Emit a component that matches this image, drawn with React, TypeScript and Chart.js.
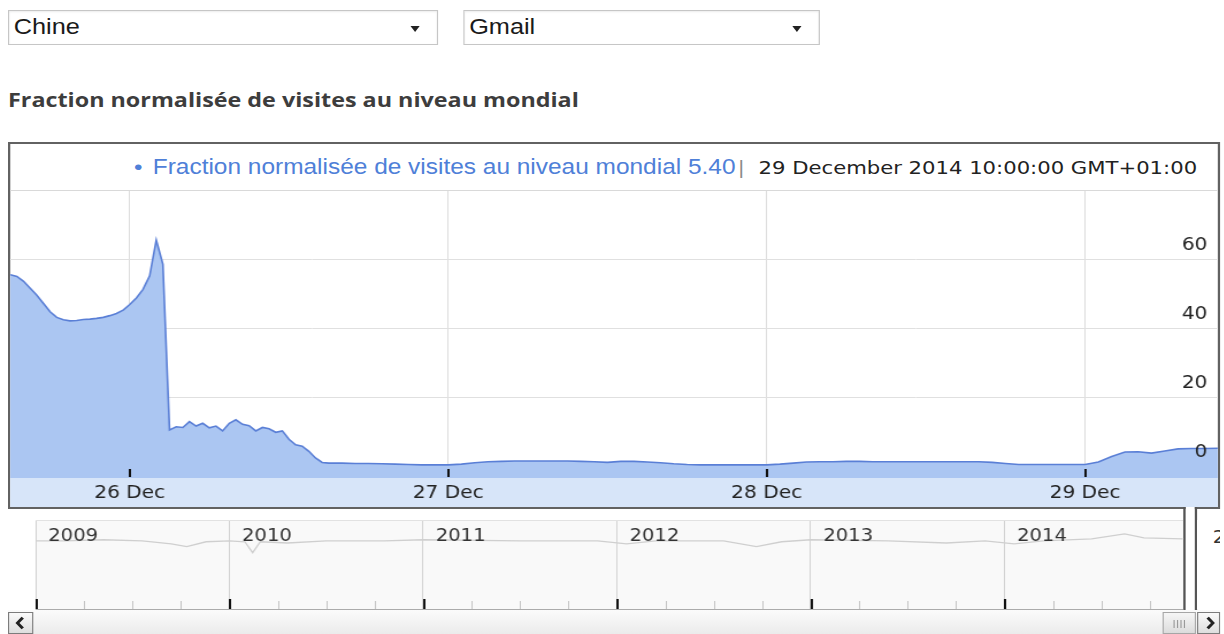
import React, { useEffect, useRef } from "react";
import { Chart, registerables } from "chart.js";

Chart.register(...registerables);

// ---------- data ----------
// hours relative to 26 Dec 2014 00:00 (GMT+01:00)
const hours = [
  -9, -8.5, -8, -7.5, -7, -6.5, -6, -5.5, -5, -4.5, -4, -3.5, -3, -2.5, -2, -1.5, -1, -0.5,
  0, 0.5, 1, 1.5, 2, 2.5, 3, 3.5, 4, 4.5, 5, 5.5, 6, 6.5, 7, 7.5, 8, 8.5, 9, 9.5, 10, 10.5,
  11, 11.5, 12, 12.5, 13, 13.5, 14, 14.5, 15,
  16, 17, 18, 19, 20, 21, 22, 23, 24, 25, 26, 27, 28, 29, 30, 31, 32, 33, 34, 35, 36, 37, 38,
  39, 40, 41, 42, 43, 44, 45, 46, 47, 48, 49, 50, 51, 52, 53, 54, 55, 56, 57, 58, 59, 60, 61,
  62, 63, 64, 65, 66, 67, 68, 69, 70, 71, 72, 73, 74, 75, 76, 77, 78, 79, 80, 81, 82,
];
const visits = [
  55.5, 55.0, 53.6, 51.6, 49.6, 47.2, 44.8, 43.2, 42.5, 42.2, 42.3, 42.6, 42.7, 42.9, 43.2, 43.7, 44.3, 45.3,
  46.9, 48.8, 51.3, 55.2, 65.5, 58.5, 10.7, 11.6, 11.4, 13.1, 11.8, 12.6, 11.3, 11.8, 10.4, 12.6, 13.6, 12.3, 11.9, 10.4, 11.4, 11.0,
  10.0, 10.4, 8.0, 6.4, 6.0, 4.5, 2.6, 1.3, 1.1,
  1.1, 1.0, 1.0, 0.9, 0.8, 0.7, 0.6, 0.6, 0.6, 0.8, 1.2, 1.5, 1.6, 1.7, 1.7, 1.7, 1.7, 1.7, 1.6, 1.5, 1.3, 1.6, 1.6,
  1.4, 1.2, 0.9, 0.7, 0.6, 0.6, 0.6, 0.6, 0.6, 0.6, 0.8, 1.1, 1.4, 1.5, 1.5, 1.6, 1.6, 1.5, 1.5, 1.5, 1.5, 1.5, 1.5,
  1.5, 1.5, 1.5, 1.3, 1.0, 0.7, 0.7, 0.7, 0.7, 0.7, 0.7, 1.4, 3.0, 4.3, 4.4, 4.0, 4.6, 5.2, 5.3, 5.3, 5.4,
];
const dayTicks = [0, 24, 48, 72];
const dayLabels = ["26 Dec", "27 Dec", "28 Dec", "29 Dec"];
const valueTicks = [0, 20, 40, 60];

// overview (navigator) series
const overviewYears = [
  2009.0, 2009.15, 2009.35, 2009.55, 2009.7, 2009.78, 2009.88, 2010.0, 2010.08, 2010.12, 2010.16,
  2010.3, 2010.5, 2010.8, 2011.0, 2011.5, 2011.9, 2012.05, 2012.2, 2012.55, 2012.72, 2012.85,
  2013.0, 2013.4, 2013.7, 2013.9, 2014.05, 2014.2, 2014.45, 2014.62, 2014.72, 2014.92,
];
const overviewLevels = [
  77.5, 77.5, 78.7, 77.5, 74, 70.8, 76.4, 77.5, 76.4, 64, 76.4,
  75, 77.5, 77.5, 78.7, 77.5, 77.5, 74, 77.5, 77.5, 70.8, 76.4,
  78.7, 77.5, 75, 77.5, 74, 77.5, 79.8, 85.4, 80.9, 79.8,
];
const yearTicks = [2009, 2010, 2011, 2012, 2013, 2014];
const yearLabels = ["2009", "2010", "2011", "2012", "2013", "2014"];
const nextYearLabel = "2015";

const countryLabel = "Chine";
const productLabel = "Gmail";
const titleText = "Fraction normalisée de visites au niveau mondial";
const seriesName = "Fraction normalisée de visites au niveau mondial";
const latestValue = "5.40";
const latestDate = "29 December 2014 10:00:00 GMT+01:00";

// ---------- layout constants ----------
const STRETCH = 1.15;
const PAGE_W = 1054;
const MAIN_W = 1050;
const MAIN_H = 316;
const NAV_W = 998;
const NAV_H = 88;
const AXIS_FONT = "DejaVu Sans";

const noPad = (s: any) => {
  s.paddingTop = 0;
  s.paddingBottom = 0;
  s.paddingLeft = 0;
  s.paddingRight = 0;
};

function MainChart() {
  const ref = useRef<HTMLCanvasElement>(null);
  useEffect(() => {
    const innerTicks = {
      id: "innerTicks",
      afterDatasetsDraw(chart: any) {
        const { ctx, chartArea, scales } = chart;
        const x = scales.x;
        ctx.save();
        ctx.strokeStyle = "#111";
        ctx.lineWidth = 2;
        x.ticks.forEach((t: any) => {
          const px = Math.round(x.getPixelForValue(t.value));
          ctx.beginPath();
          ctx.moveTo(px, chartArea.bottom - 9);
          ctx.lineTo(px, chartArea.bottom - 1);
          ctx.stroke();
        });
        ctx.restore();
      },
    };
    const chart = new Chart(ref.current as HTMLCanvasElement, {
      type: "line",
      data: {
        datasets: [
          {
            data: hours.map((h, i) => ({ x: h, y: visits[i] })),
            borderColor: "#5a7fd6",
            backgroundColor: "#abc6f2",
            borderWidth: 1.6,
            fill: "start",
            pointRadius: 0,
            tension: 0,
          },
        ],
      },
      options: {
        animation: false,
        responsive: false,
        maintainAspectRatio: false,
        layout: { padding: 0 },
        plugins: { legend: { display: false }, tooltip: { enabled: false } },
        scales: {
          x: {
            type: "linear",
            min: -9,
            max: 82,
            backgroundColor: "#d7e5f9",
            afterBuildTicks: (s: any) => {
              s.ticks = dayTicks.map((v) => ({ value: v }));
            },
            afterFit: (s: any) => {
              s.height = 29;
              noPad(s);
            },
            ticks: {
              autoSkip: false,
              maxRotation: 0,
              padding: 5,
              color: "#222",
              font: { family: AXIS_FONT, size: 17.5 },
              callback: (v: any) => {
                const i = dayTicks.indexOf(Number(v));
                return i >= 0 ? dayLabels[i] : "";
              },
            },
            grid: { color: "#dcdcdc", drawTicks: false, lineWidth: 1 },
            border: { display: false },
          },
          y: {
            position: "left",
            min: -3.2,
            max: 79.7,
            afterBuildTicks: (s: any) => {
              s.ticks = valueTicks.map((v) => ({ value: v }));
            },
            afterFit: (s: any) => {
              s.width = 0;
              noPad(s);
            },
            ticks: { display: false },
            grid: { color: "#e0e0e0", drawTicks: false },
            border: { display: false },
          },
          yLabels: {
            position: "right",
            min: -3.2,
            max: 79.7,
            afterBuildTicks: (s: any) => {
              s.ticks = valueTicks.map((v) => ({ value: v }));
            },
            afterFit: (s: any) => {
              s.width = 0;
              noPad(s);
            },
            ticks: {
              z: 1,
              mirror: true,
              padding: -9,
              labelOffset: -14,
              color: "#222",
              font: { family: AXIS_FONT, size: 17.5 },
              callback: (v: any) => String(v),
            },
            grid: { display: false, drawTicks: false },
            border: { display: false },
          },
        },
      } as any,
      plugins: [innerTicks],
    });
    return () => chart.destroy();
  }, []);
  return (
    <canvas
      ref={ref}
      width={MAIN_W}
      height={MAIN_H}
      style={{ display: "block", width: MAIN_W, height: MAIN_H }}
    />
  );
}

function NavigatorChart() {
  const ref = useRef<HTMLCanvasElement>(null);
  useEffect(() => {
    const navDecor = {
      id: "navDecor",
      afterDraw(chart: any) {
        const { ctx, chartArea, scales } = chart;
        const x = scales.x;
        ctx.save();
        ctx.strokeStyle = "#c4c4c4";
        ctx.lineWidth = 1;
        yearTicks.forEach((yr) => {
          [0.25, 0.5, 0.75].forEach((q) => {
            const px = Math.round(x.getPixelForValue(yr + q)) + 0.5;
            if (px < chartArea.right) {
              ctx.beginPath();
              ctx.moveTo(px, chartArea.bottom - 8);
              ctx.lineTo(px, chartArea.bottom);
              ctx.stroke();
            }
          });
        });
        ctx.strokeStyle = "#111";
        ctx.lineWidth = 2;
        yearTicks.forEach((yr) => {
          const px = Math.round(x.getPixelForValue(yr)) + 1;
          ctx.beginPath();
          ctx.moveTo(px, chartArea.bottom - 10);
          ctx.lineTo(px, chartArea.bottom);
          ctx.stroke();
        });
        ctx.fillStyle = "#333";
        ctx.font = `17px "${AXIS_FONT}"`;
        ctx.textAlign = "left";
        ctx.textBaseline = "middle";
        yearTicks.forEach((yr, i) => {
          const px = x.getPixelForValue(yr);
          ctx.fillText(yearLabels[i], px + 11, chartArea.top + 16);
        });
        ctx.restore();
      },
    };
    const chart = new Chart(ref.current as HTMLCanvasElement, {
      type: "line",
      data: {
        datasets: [
          {
            data: overviewYears.map((yr, i) => ({ x: yr, y: overviewLevels[i] })),
            borderColor: "#cfcfcf",
            borderWidth: 1.3,
            pointRadius: 0,
            fill: false,
            tension: 0,
          },
        ],
      },
      options: {
        animation: false,
        responsive: false,
        maintainAspectRatio: false,
        layout: { padding: 0 },
        plugins: { legend: { display: false }, tooltip: { enabled: false } },
        scales: {
          x: {
            type: "linear",
            min: 2009,
            max: 2014.923,
            afterBuildTicks: (s: any) => {
              s.ticks = yearTicks.map((v) => ({ value: v }));
            },
            afterFit: (s: any) => {
              s.height = 0;
              noPad(s);
            },
            ticks: { display: false },
            grid: { color: "#d2d2d2", drawTicks: false },
            border: { display: false },
          },
          y: { display: false, min: 0, max: 100 },
        },
      } as any,
      plugins: [navDecor],
    });
    return () => chart.destroy();
  }, []);
  return (
    <canvas
      ref={ref}
      width={NAV_W}
      height={NAV_H}
      style={{ display: "block", width: NAV_W, height: NAV_H }}
    />
  );
}

function SelectBox({ left, width, label }: { left: number; width: number; label: string }) {
  return (
    <div
      style={{
        position: "absolute",
        left,
        top: 2,
        width,
        height: 35,
        boxSizing: "border-box",
        border: "1px solid #c6c6c6",
        boxShadow: "inset 0 1px 2px rgba(0,0,0,0.08)",
        background: "#fff",
        font: '22px "Liberation Sans", Arial, sans-serif',
        lineHeight: "31px",
        color: "#1a1a1a",
        paddingLeft: 4,
      }}
    >
      {label}
      <div
        style={{
          position: "absolute",
          right: 15,
          top: 15,
          width: 0,
          height: 0,
          borderLeft: "4.5px solid transparent",
          borderRight: "4.5px solid transparent",
          borderTop: "6px solid #222",
        }}
      />
    </div>
  );
}

function Chevron({ dir }: { dir: "left" | "right" }) {
  const pts = dir === "left" ? "12,5 7,11 12,17" : "8,5 13,11 8,17";
  return (
    <svg width="20" height="20" viewBox="0 0 20 22" style={{ display: "block" }}>
      <polyline points={pts} fill="none" stroke="#222" strokeWidth="3" />
    </svg>
  );
}

export default function App() {
  useEffect(() => {
    document.documentElement.style.overflow = "hidden";
    document.body.style.margin = "8px 0 0 8px";
    document.body.style.overflow = "visible";
    const root = document.getElementById("root");
    if (root) root.style.overflow = "visible";
  }, []);
  return (
    <div
      style={{
        position: "relative",
        width: PAGE_W,
        height: 626,
        transform: `scaleX(${STRETCH})`,
        transformOrigin: "0 0",
        background: "#fff",
      }}
    >
      <SelectBox left={0} width={374} label={countryLabel} />
      <SelectBox left={396} width={310} label={productLabel} />

      <div
        style={{
          position: "absolute",
          left: 0,
          top: 81,
          font: 'bold 20.3px "Open Sans", sans-serif',
          lineHeight: "21px",
          color: "#3d3d3d",
          whiteSpace: "nowrap",
        }}
      >
        {titleText}
      </div>

      {/* main chart frame */}
      <div
        style={{
          position: "absolute",
          left: 0,
          top: 134,
          width: PAGE_W,
          height: 367,
          boxSizing: "border-box",
          border: "2px solid #626262",
          background: "#fff",
        }}
      >
        <div
          style={{
            height: 46,
            borderBottom: "1px solid #d9d9d9",
            display: "flex",
            justifyContent: "flex-end",
            alignItems: "center",
            paddingRight: 18,
            whiteSpace: "nowrap",
          }}
        >
          <span style={{ color: "#4f80d8", font: '21px "Liberation Sans", Arial, sans-serif', marginRight: 9 }}>•</span>
          <span style={{ color: "#4f80d8", font: '21.25px "Liberation Sans", Arial, sans-serif' }}>
            {seriesName + " " + latestValue}
          </span>
          <span style={{ color: "#8a8a8a", font: `18px "${AXIS_FONT}"`, margin: "0 12px 0 2px" }}>|</span>
          <span style={{ color: "#222", font: `18.4px "${AXIS_FONT}"` }}>{latestDate}</span>
        </div>
        <MainChart />
      </div>

      {/* gap in frame bottom where the range selector opens */}
      <div
        style={{
          position: "absolute",
          left: 1023.5,
          top: 498.5,
          width: 8,
          height: 3,
          background: "#fff",
        }}
      />

      {/* navigator */}
      <div
        style={{
          position: "absolute",
          left: 23.5,
          top: 512,
          width: NAV_W,
          height: 90,
          boxSizing: "border-box",
          borderTop: "1px solid #e2e2e2",
          borderBottom: "1px solid #ababab",
          background: "#f9f9f9",
        }}
      >
        <NavigatorChart />
      </div>
      <div
        style={{
          position: "absolute",
          left: 1021.5,
          top: 512,
          width: 11,
          height: 90,
          background: "#fff",
        }}
      />
      <div style={{ position: "absolute", left: 1021.5, top: 499, width: 2, height: 104, background: "#555" }} />
      <div style={{ position: "absolute", left: 1031.5, top: 499, width: 2, height: 104, background: "#555" }} />
      <div
        style={{
          position: "absolute",
          left: 1034,
          top: 512,
          width: 20,
          height: 89,
          overflow: "hidden",
          background: "#fff",
        }}
      >
        <div
          style={{
            position: "absolute",
            left: 13.5,
            top: 7,
            font: `17px "${AXIS_FONT}"`,
            color: "#333",
            whiteSpace: "nowrap",
            lineHeight: "20px",
          }}
        >
          {nextYearLabel}
        </div>
      </div>

      {/* scrollbar */}
      <div
        style={{
          position: "absolute",
          left: 0,
          top: 602,
          width: PAGE_W,
          height: 24,
          background: "linear-gradient(#fbfbfb, #ebebeb)",
        }}
      >
        <div
          style={{
            position: "absolute",
            left: 0,
            top: 2,
            width: 22,
            height: 22,
            boxSizing: "border-box",
            border: "1px solid #7c7c7c",
            background: "linear-gradient(#fafafa, #dedede)",
          }}
        >
          <Chevron dir="left" />
        </div>
        <div
          style={{
            position: "absolute",
            left: 1004,
            top: 2,
            width: 29,
            height: 22,
            boxSizing: "border-box",
            border: "1px solid #a6a6a6",
            background: "linear-gradient(#f6f6f6, #dcdcdc)",
          }}
        >
          <svg width="27" height="20" viewBox="0 0 27 20" style={{ display: "block" }}>
            {[9, 12, 15, 18].map((gx) => (
              <line key={gx} x1={gx} y1={7} x2={gx} y2={15} stroke="#9a9a9a" strokeWidth="1" />
            ))}
          </svg>
        </div>
        <div
          style={{
            position: "absolute",
            left: 1034,
            top: 2,
            width: 20,
            height: 22,
            boxSizing: "border-box",
            border: "1px solid #7c7c7c",
            background: "linear-gradient(#fafafa, #dedede)",
          }}
        >
          <Chevron dir="right" />
        </div>
      </div>
    </div>
  );
}
